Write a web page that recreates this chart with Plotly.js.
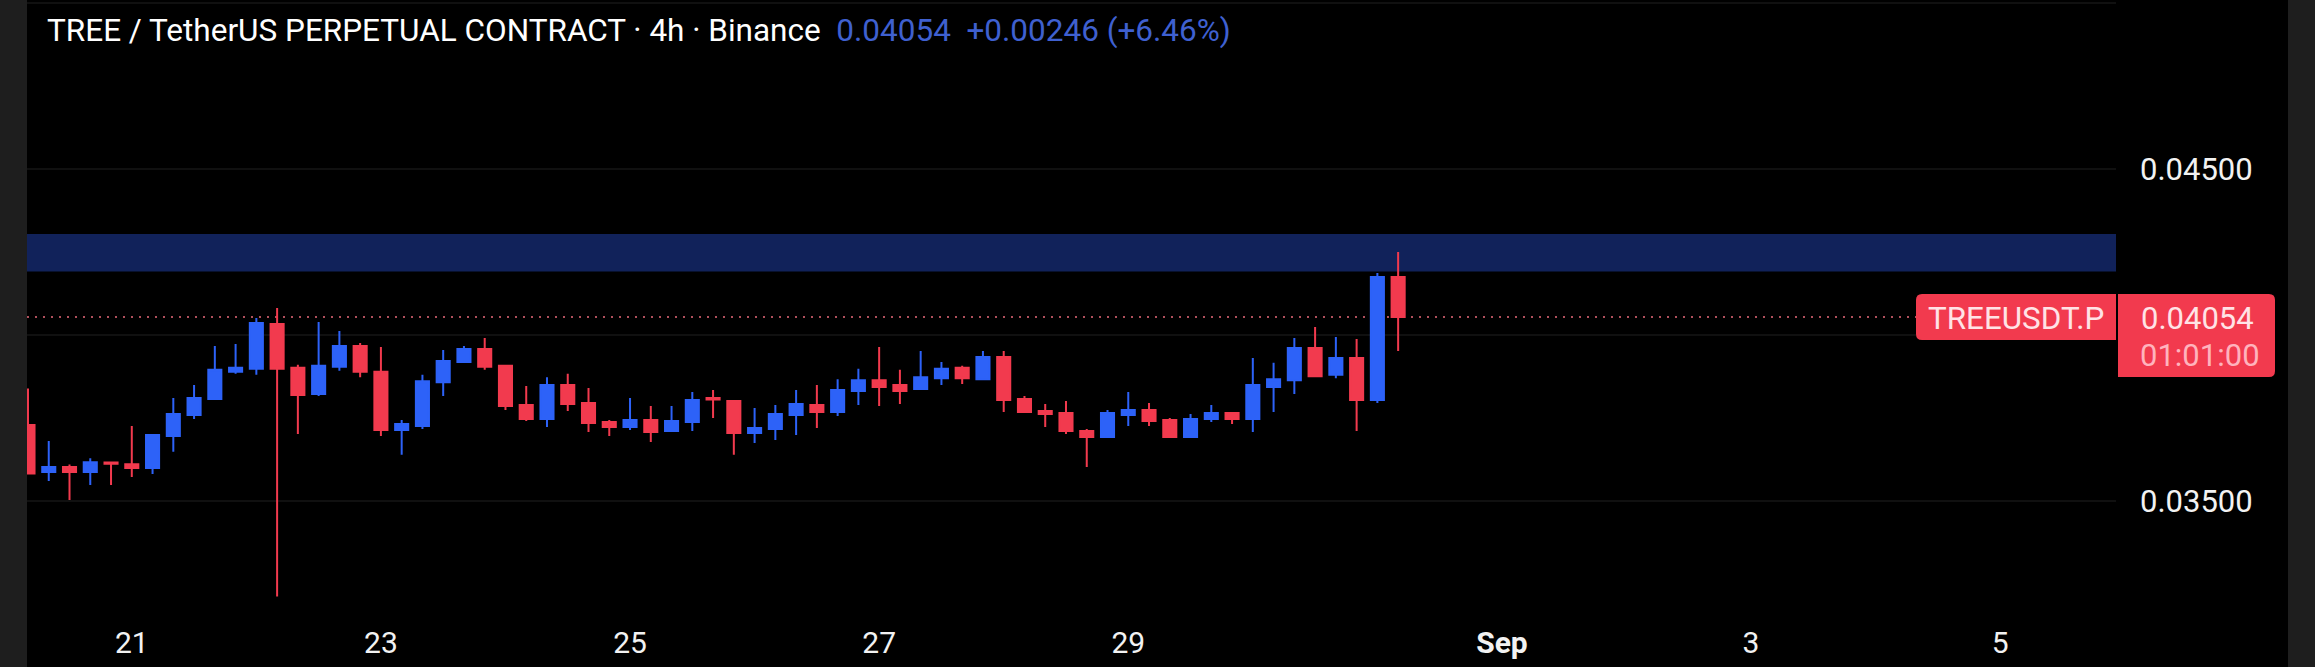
<!DOCTYPE html>
<html>
<head>
<meta charset="utf-8">
<script src="https://cdn.plot.ly/plotly-3.0.1.min.js"></script>
<style>
html, body { margin: 0; padding: 0; background: #1e1e1e; overflow: hidden; }
#chart { position: absolute; left: 27px; top: 0; width: 2261px; height: 667px; background: #000; }
</style>
</head>
<body>
<div id="chart"></div>
<script>
// 4h candles
var times = [
	"2025-08-20 04:00", "2025-08-20 08:00", "2025-08-20 12:00", "2025-08-20 16:00", "2025-08-20 20:00",
	"2025-08-21 00:00", "2025-08-21 04:00", "2025-08-21 08:00", "2025-08-21 12:00", "2025-08-21 16:00", "2025-08-21 20:00",
	"2025-08-22 00:00", "2025-08-22 04:00", "2025-08-22 08:00", "2025-08-22 12:00", "2025-08-22 16:00", "2025-08-22 20:00",
	"2025-08-23 00:00", "2025-08-23 04:00", "2025-08-23 08:00", "2025-08-23 12:00", "2025-08-23 16:00", "2025-08-23 20:00",
	"2025-08-24 00:00", "2025-08-24 04:00", "2025-08-24 08:00", "2025-08-24 12:00", "2025-08-24 16:00", "2025-08-24 20:00",
	"2025-08-25 00:00", "2025-08-25 04:00", "2025-08-25 08:00", "2025-08-25 12:00", "2025-08-25 16:00", "2025-08-25 20:00",
	"2025-08-26 00:00", "2025-08-26 04:00", "2025-08-26 08:00", "2025-08-26 12:00", "2025-08-26 16:00", "2025-08-26 20:00",
	"2025-08-27 00:00", "2025-08-27 04:00", "2025-08-27 08:00", "2025-08-27 12:00", "2025-08-27 16:00", "2025-08-27 20:00",
	"2025-08-28 00:00", "2025-08-28 04:00", "2025-08-28 08:00", "2025-08-28 12:00", "2025-08-28 16:00", "2025-08-28 20:00",
	"2025-08-29 00:00", "2025-08-29 04:00", "2025-08-29 08:00", "2025-08-29 12:00", "2025-08-29 16:00", "2025-08-29 20:00",
	"2025-08-30 00:00", "2025-08-30 04:00", "2025-08-30 08:00", "2025-08-30 12:00", "2025-08-30 16:00", "2025-08-30 20:00",
	"2025-08-31 00:00", "2025-08-31 04:00"
];
var open = [
	0.03729, 0.03587, 0.03602, 0.03587, 0.03616, 0.03611, 0.03599, 0.03696, 0.03759, 0.03807,
	0.03889, 0.03898, 0.04033, 0.03901, 0.03822, 0.03904, 0.03967, 0.03889, 0.03714, 0.03726,
	0.03858, 0.03919, 0.03958, 0.03907, 0.03789, 0.03747, 0.03849, 0.03795, 0.03738, 0.03723,
	0.03744, 0.03711, 0.03738, 0.03810, 0.03801, 0.03705, 0.03717, 0.03759, 0.03789, 0.03768,
	0.03831, 0.03864, 0.03849, 0.03837, 0.03870, 0.03901, 0.03867, 0.03934, 0.03807, 0.03771,
	0.03765, 0.03711, 0.03693, 0.03759, 0.03774, 0.03744, 0.03693, 0.03747, 0.03765, 0.03747,
	0.03843, 0.03864, 0.03961, 0.03880, 0.03931, 0.03804, 0.04175
];
var high = [
	0.03839, 0.03681, 0.03610, 0.03629, 0.03619, 0.03726, 0.03701, 0.03810, 0.03849, 0.03967,
	0.03973, 0.04051, 0.04081, 0.03910, 0.04039, 0.04012, 0.03976, 0.03964, 0.03744, 0.03880,
	0.03955, 0.03967, 0.03991, 0.03907, 0.03846, 0.03873, 0.03883, 0.03840, 0.03744, 0.03810,
	0.03786, 0.03786, 0.03828, 0.03834, 0.03804, 0.03780, 0.03789, 0.03834, 0.03849, 0.03867,
	0.03898, 0.03964, 0.03895, 0.03952, 0.03919, 0.03907, 0.03952, 0.03952, 0.03816, 0.03792,
	0.03801, 0.03717, 0.03774, 0.03828, 0.03795, 0.03750, 0.03762, 0.03789, 0.03768, 0.03931,
	0.03916, 0.03991, 0.04024, 0.03994, 0.03988, 0.04187, 0.04250
];
var low = [
	0.03581, 0.03560, 0.03503, 0.03548, 0.03548, 0.03572, 0.03581, 0.03648, 0.03747, 0.03807,
	0.03883, 0.03880, 0.03212, 0.03702, 0.03816, 0.03892, 0.03873, 0.03696, 0.03639, 0.03717,
	0.03816, 0.03916, 0.03895, 0.03774, 0.03741, 0.03723, 0.03771, 0.03708, 0.03696, 0.03714,
	0.03678, 0.03708, 0.03711, 0.03750, 0.03639, 0.03675, 0.03684, 0.03699, 0.03720, 0.03756,
	0.03789, 0.03786, 0.03792, 0.03834, 0.03849, 0.03852, 0.03867, 0.03768, 0.03768, 0.03723,
	0.03702, 0.03602, 0.03693, 0.03726, 0.03726, 0.03693, 0.03693, 0.03738, 0.03732, 0.03708,
	0.03768, 0.03822, 0.03873, 0.03870, 0.03711, 0.03795, 0.03952
];
var close = [
	0.03583, 0.03602, 0.03587, 0.03617, 0.03612, 0.03599, 0.03699, 0.03762, 0.03810, 0.03895,
	0.03901, 0.04036, 0.03898, 0.03819, 0.03907, 0.03967, 0.03889, 0.03714, 0.03732, 0.03861,
	0.03922, 0.03958, 0.03904, 0.03786, 0.03747, 0.03849, 0.03792, 0.03735, 0.03723, 0.03744,
	0.03708, 0.03741, 0.03804, 0.03806, 0.03705, 0.03720, 0.03762, 0.03792, 0.03768, 0.03834,
	0.03864, 0.03843, 0.03831, 0.03873, 0.03898, 0.03870, 0.03934, 0.03804, 0.03768, 0.03762,
	0.03711, 0.03693, 0.03765, 0.03774, 0.03741, 0.03693, 0.03747, 0.03765, 0.03747, 0.03849,
	0.03867, 0.03961, 0.03876, 0.03931, 0.03804, 0.04175, 0.04054
];

// axes
var dayTicks = ["2025-08-21", "2025-08-23", "2025-08-25", "2025-08-27", "2025-08-29", "2025-09-01", "2025-09-03", "2025-09-05"];
var dayLabels = ["21", "23", "25", "27", "29", "<b>Sep</b>", "3", "5"];
var priceTicks = [0.035, 0.04, 0.045, 0.05];
var priceLabels = ["0.03500", "", "0.04500", ""];

// levels
var zoneTop = 0.04304;
var zoneBottom = 0.04191;
var lastPrice = 0.04054;

var red = "#f23a4e";
var blue = "#2d62f8";
var plotW = 2089;
var plotH = 622;

// page pixels to paper coordinates
var px = function(x) { return (x - 27) / plotW; };
var py = function(y) { return 1 - y / plotH; };

var data = [{
	type: "candlestick",
	x: times,
	open: open,
	high: high,
	low: low,
	close: close,
	whiskerwidth: 0,
	increasing: { line: { color: blue, width: 2 }, fillcolor: blue },
	decreasing: { line: { color: red, width: 2 }, fillcolor: red },
	hoverinfo: "skip"
}];

var layout = {
	width: 2261,
	height: 667,
	margin: { l: 0, r: 172, t: 0, b: 45 },
	paper_bgcolor: "#000000",
	plot_bgcolor: "#000000",
	font: { family: "Roboto, sans-serif", color: "#f2f2f2", size: 30 },
	showlegend: false,
	boxgap: 0.1,
	title: {
		text: "TREE / TetherUS PERPETUAL CONTRACT · 4h · Binance\u00a0\u00a0<span style=\"color:#3f60d0\">0.04054\u00a0\u00a0+0.00246 (+6.46%)</span>",
		font: { family: "Roboto, sans-serif", size: 31.5, color: "#ffffff" },
		xref: "paper",
		x: 0.0096,
		xanchor: "left",
		yref: "container",
		y: 0.955,
		yanchor: "middle"
	},
	xaxis: {
		type: "date",
		range: ["2025-08-20 03:48:30", "2025-09-05 22:19:00"],
		rangeslider: { visible: false },
		tickmode: "array",
		tickvals: dayTicks,
		ticktext: dayLabels,
		ticks: "",
		showgrid: false,
		zeroline: false,
		showline: false,
		tickfont: { size: 30, color: "#f2f2f2" }
	},
	yaxis: {
		side: "right",
		range: [0.031355, 0.05009],
		tickmode: "array",
		tickvals: priceTicks,
		ticktext: priceLabels,
		ticks: "",
		ticklabelstandoff: 23,
		showgrid: true,
		gridcolor: "#101010",
		gridwidth: 2,
		zeroline: false,
		showline: false,
		tickfont: { size: 31, color: "#f2f2f2" }
	},
	shapes: [
		// resistance zone
		{ type: "rect", layer: "below", xref: "paper", x0: 0, x1: 1, yref: "y", y0: zoneBottom, y1: zoneTop, fillcolor: "#11225a", line: { width: 0 } },
		// last price line
		{ type: "line", layer: "below", xref: "paper", x0: 0, x1: px(1916), yref: "y", y0: lastPrice, y1: lastPrice, line: { color: "#b0505c", width: 2, dash: "2px,6px" } },
		// symbol tag
		{
			type: "path", xref: "paper", yref: "paper", fillcolor: "#f23a4e", line: { width: 0 },
			path: "M " + px(2116) + " " + py(294) + " L " + px(1922) + " " + py(294) +
				" Q " + px(1916) + " " + py(294) + " " + px(1916) + " " + py(300) +
				" L " + px(1916) + " " + py(334) + " Q " + px(1916) + " " + py(340) + " " + px(1922) + " " + py(340) +
				" L " + px(2116) + " " + py(340) + " Z"
		},
		// price and countdown tag
		{
			type: "path", xref: "paper", yref: "paper", fillcolor: "#f23a4e", line: { width: 0 },
			path: "M " + px(2118) + " " + py(294) + " L " + px(2269) + " " + py(294) +
				" Q " + px(2275) + " " + py(294) + " " + px(2275) + " " + py(300) +
				" L " + px(2275) + " " + py(371) + " Q " + px(2275) + " " + py(377) + " " + px(2269) + " " + py(377) +
				" L " + px(2118) + " " + py(377) + " Z"
		}
	],
	annotations: [
		{ text: "TREEUSDT.P", xref: "paper", yref: "paper", x: px(2016), y: py(318), showarrow: false, xanchor: "center", yanchor: "middle", font: { size: 31.4, color: "#ffe3e6" } },
		{ text: "0.04054", xref: "paper", yref: "paper", x: px(2139), y: py(318), showarrow: false, xanchor: "left", yanchor: "middle", font: { size: 31, color: "#ffe3e6" } },
		{ text: "01:01:00", xref: "paper", yref: "paper", x: px(2138), y: py(355), showarrow: false, xanchor: "left", yanchor: "middle", font: { size: 31, color: "#ffb3bd" } }
	]
};

Plotly.newPlot("chart", data, layout, { displayModeBar: false, staticPlot: true });
</script>
</body>
</html>
